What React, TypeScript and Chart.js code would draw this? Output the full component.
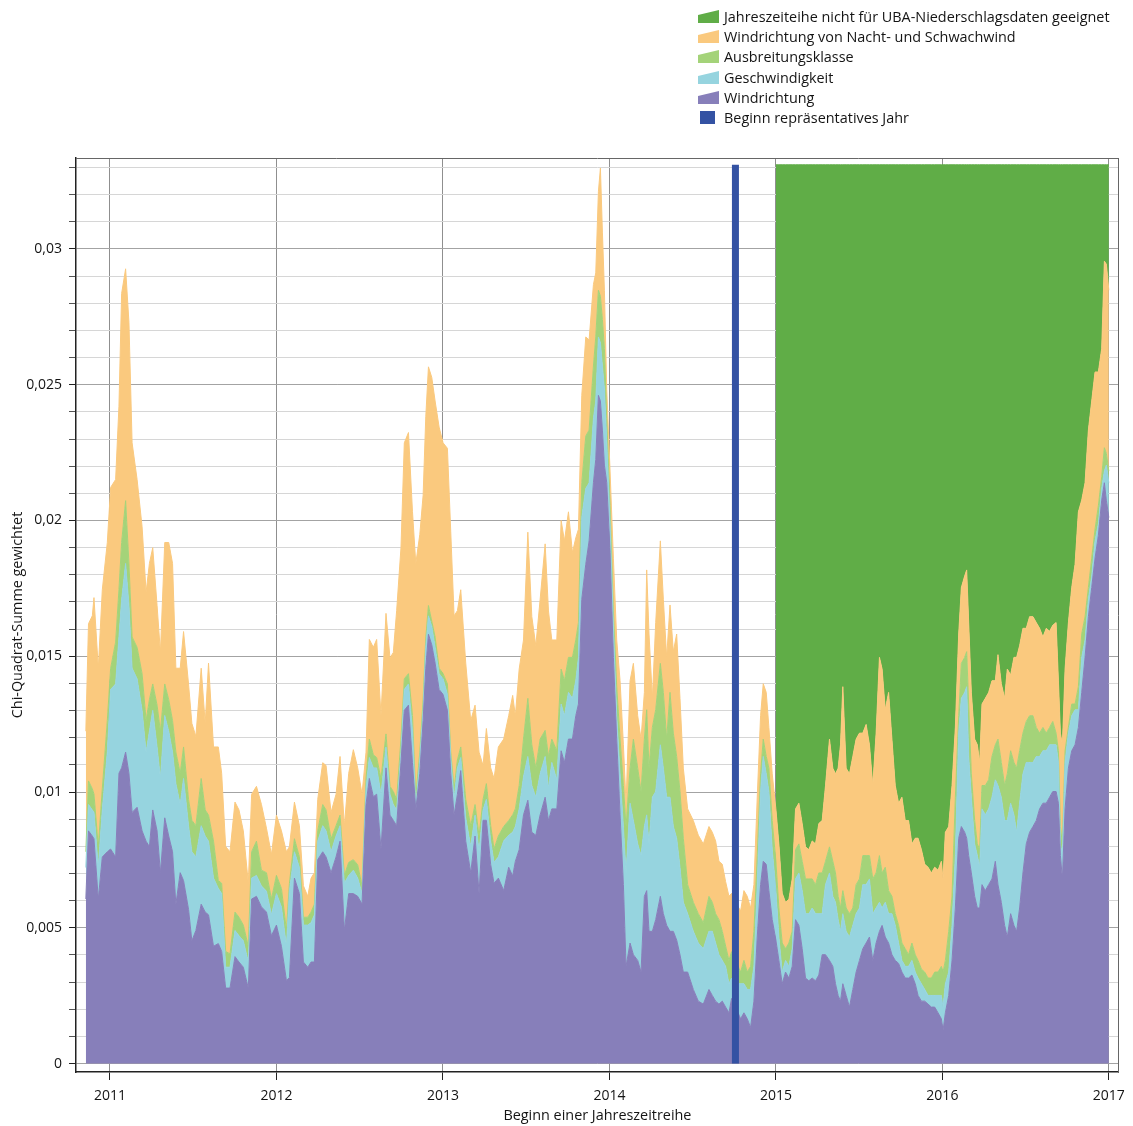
import React, { useEffect, useRef } from "react";
import { Chart, registerables } from "chart.js";

Chart.register(...registerables);

// ---------- data ----------
const years = [
  2010.855, 2010.871, 2010.894, 2010.904, 2010.930, 2010.954, 2010.984, 2011.004, 2011.034, 2011.054,
  2011.070, 2011.094, 2011.114, 2011.133, 2011.163, 2011.193, 2011.217, 2011.237, 2011.257, 2011.283,
  2011.303, 2011.329, 2011.353, 2011.376, 2011.396, 2011.422, 2011.442, 2011.472, 2011.492, 2011.516,
  2011.548, 2011.572, 2011.592, 2011.622, 2011.651, 2011.671, 2011.695, 2011.721, 2011.751, 2011.775,
  2011.801, 2011.831, 2011.851, 2011.880, 2011.910, 2011.940, 2011.970, 2012.000, 2012.030, 2012.060,
  2012.078, 2012.108, 2012.138, 2012.162, 2012.188, 2012.208, 2012.228, 2012.248, 2012.278, 2012.298,
  2012.328, 2012.358, 2012.382, 2012.408, 2012.434, 2012.462, 2012.488, 2012.514, 2012.538, 2012.558,
  2012.582, 2012.602, 2012.628, 2012.658, 2012.682, 2012.702, 2012.722, 2012.748, 2012.768, 2012.793,
  2012.817, 2012.837, 2012.861, 2012.881, 2012.897, 2012.913, 2012.933, 2012.953, 2012.977, 2013.001,
  2013.027, 2013.047, 2013.067, 2013.087, 2013.107, 2013.137, 2013.167, 2013.193, 2013.217, 2013.241,
  2013.261, 2013.287, 2013.307, 2013.333,
  2013.365, 2013.395, 2013.419, 2013.435, 2013.458, 2013.484, 2013.510, 2013.534, 2013.558, 2013.584,
  2013.614, 2013.634, 2013.654, 2013.684, 2013.710, 2013.730, 2013.754, 2013.778, 2013.798, 2013.814,
  2013.834, 2013.858, 2013.878, 2013.904, 2013.918, 2013.934, 2013.946, 2013.958, 2013.970, 2013.984,
  2014.004, 2014.024, 2014.044, 2014.064, 2014.084, 2014.100, 2014.124, 2014.144, 2014.170, 2014.190,
  2014.210, 2014.224, 2014.238, 2014.258, 2014.278, 2014.306, 2014.324, 2014.344, 2014.364, 2014.384,
  2014.404, 2014.424, 2014.444, 2014.470, 2014.504, 2014.534, 2014.564,
  2014.598, 2014.618, 2014.638, 2014.658, 2014.678, 2014.698, 2014.718, 2014.734, 2014.758, 2014.788,
  2014.808, 2014.828, 2014.848, 2014.868, 2014.888, 2014.908, 2014.924, 2014.942, 2014.958, 2014.978,
  2015.000, 2015.018, 2015.038, 2015.058, 2015.078, 2015.098, 2015.118, 2015.138, 2015.158, 2015.178,
  2015.198, 2015.218, 2015.238, 2015.258, 2015.278, 2015.298, 2015.322, 2015.342, 2015.358, 2015.374,
  2015.388, 2015.402, 2015.422, 2015.442, 2015.462, 2015.482, 2015.502, 2015.522, 2015.542, 2015.562,
  2015.582, 2015.602, 2015.622, 2015.638, 2015.657, 2015.677, 2015.697, 2015.717, 2015.737, 2015.757,
  2015.777, 2015.797, 2015.817, 2015.837,
  2015.854, 2015.874, 2015.894, 2015.914, 2015.934, 2015.954, 2015.974, 2015.994, 2016.004, 2016.018,
  2016.038, 2016.058, 2016.078, 2016.098, 2016.114, 2016.134, 2016.146, 2016.158, 2016.174, 2016.194,
  2016.210, 2016.224, 2016.238, 2016.258, 2016.278, 2016.298, 2016.318, 2016.334, 2016.354, 2016.374,
  2016.390, 2016.410, 2016.430, 2016.446, 2016.464, 2016.484, 2016.504, 2016.524, 2016.544, 2016.564,
  2016.584, 2016.604, 2016.624, 2016.644, 2016.663, 2016.683, 2016.697, 2016.709, 2016.721, 2016.737,
  2016.757, 2016.777, 2016.797, 2016.817, 2016.837, 2016.857, 2016.877, 2016.897, 2016.917, 2016.937,
  2016.957, 2016.973, 2016.985, 2017.000,
];

const windrichtung = [
  6.06e-3, 8.57e-3, 8.38e-3, 8.28e-3, 6.06e-3, 7.61e-3, 7.80e-3, 7.90e-3, 7.61e-3, 10.69e-3,
  10.89e-3, 11.47e-3, 10.69e-3, 9.25e-3, 9.44e-3, 8.57e-3, 8.19e-3, 7.99e-3, 9.34e-3, 8.57e-3,
  7.03e-3, 9.05e-3, 8.38e-3, 7.80e-3, 5.87e-3, 7.03e-3, 6.74e-3, 5.68e-3, 4.52e-3, 4.90e-3,
  5.87e-3, 5.58e-3, 5.48e-3, 4.32e-3, 4.42e-3, 4.13e-3, 2.78e-3, 2.78e-3, 3.94e-3, 3.74e-3,
  3.55e-3, 2.78e-3, 6.06e-3, 6.16e-3, 5.77e-3, 5.58e-3, 4.71e-3, 5.10e-3, 4.32e-3, 3.06e-3,
  3.17e-3, 6.83e-3, 6.26e-3, 3.74e-3, 3.55e-3, 3.74e-3, 3.74e-3, 7.51e-3, 7.80e-3, 7.61e-3,
  7.03e-3, 7.61e-3, 8.19e-3, 4.90e-3, 6.26e-3, 6.26e-3, 6.16e-3, 5.87e-3, 9.54e-3, 10.50e-3,
  9.83e-3, 9.92e-3, 7.90e-3, 10.89e-3, 9.15e-3, 8.96e-3, 8.76e-3, 11.08e-3, 13.01e-3, 13.20e-3,
  11.08e-3, 9.34e-3, 10.69e-3, 12.63e-3, 14.56e-3, 15.81e-3, 15.42e-3, 14.75e-3, 13.78e-3, 13.59e-3,
  13.01e-3, 10.69e-3, 9.15e-3, 9.92e-3, 10.79e-3, 8.19e-3, 7.03e-3, 8.38e-3, 6.26e-3, 8.96e-3,
  8.96e-3, 7.32e-3, 6.64e-3, 6.83e-3,
  6.37e-3, 7.23e-3, 6.91e-3, 7.45e-3, 7.88e-3, 9.16e-3, 9.70e-3, 8.52e-3, 8.41e-3, 9.16e-3,
  9.81e-3, 8.95e-3, 9.38e-3, 9.38e-3, 11.52e-3, 11.09e-3, 11.95e-3, 11.95e-3, 12.81e-3, 13.24e-3,
  17.10e-3, 18.39e-3, 19.25e-3, 21.39e-3, 22.25e-3, 24.61e-3, 24.40e-3, 23.33e-3, 22.04e-3, 21.39e-3,
  18.82e-3, 14.96e-3, 11.95e-3, 9.16e-3, 6.59e-3, 3.58e-3, 4.44e-3, 4.01e-3, 3.80e-3, 3.37e-3,
  6.16e-3, 6.37e-3, 4.87e-3, 4.87e-3, 5.30e-3, 6.16e-3, 5.52e-3, 5.09e-3, 4.87e-3, 4.87e-3,
  4.55e-3, 4.01e-3, 3.37e-3, 3.37e-3, 2.73e-3, 2.30e-3, 2.19e-3,
  2.73e-3, 2.51e-3, 2.30e-3, 2.19e-3, 2.30e-3, 2.08e-3, 1.87e-3, 2.40e-3, 2.08e-3, 1.65e-3,
  1.87e-3, 1.65e-3, 1.33e-3, 2.30e-3, 4.66e-3, 6.59e-3, 7.45e-3, 7.34e-3, 6.37e-3, 5.30e-3,
  4.55e-3, 3.80e-3, 2.94e-3, 3.37e-3, 3.15e-3, 3.58e-3, 5.30e-3, 5.09e-3, 4.23e-3, 3.15e-3,
  3.05e-3, 3.15e-3, 3.05e-3, 3.26e-3, 4.01e-3, 4.01e-3, 3.80e-3, 3.58e-3, 2.94e-3, 2.51e-3,
  2.30e-3, 2.94e-3, 2.51e-3, 2.08e-3, 2.73e-3, 3.37e-3, 3.80e-3, 4.23e-3, 4.44e-3, 4.66e-3,
  3.80e-3, 4.44e-3, 4.87e-3, 5.09e-3, 4.66e-3, 4.44e-3, 4.01e-3, 3.80e-3, 3.69e-3, 3.37e-3,
  3.15e-3, 3.15e-3, 3.26e-3, 2.94e-3,
  2.51e-3, 2.30e-3, 2.30e-3, 2.19e-3, 2.08e-3, 2.08e-3, 1.87e-3, 1.65e-3, 1.22e-3, 1.87e-3,
  2.51e-3, 3.80e-3, 5.73e-3, 8.30e-3, 8.73e-3, 8.52e-3, 8.30e-3, 7.66e-3, 7.02e-3, 6.16e-3,
  5.73e-3, 5.73e-3, 6.59e-3, 6.37e-3, 6.59e-3, 6.80e-3, 7.45e-3, 6.59e-3, 5.94e-3, 5.09e-3,
  4.66e-3, 5.52e-3, 5.09e-3, 4.87e-3, 5.73e-3, 7.02e-3, 8.09e-3, 8.52e-3, 8.73e-3, 8.95e-3,
  9.38e-3, 9.59e-3, 9.59e-3, 9.81e-3, 10.02e-3, 10.02e-3, 9.59e-3, 7.66e-3, 6.80e-3, 9.38e-3,
  10.88e-3, 11.52e-3, 11.74e-3, 12.38e-3, 13.67e-3, 14.96e-3, 16.46e-3, 17.53e-3, 18.61e-3, 19.46e-3,
  20.75e-3, 21.39e-3, 20.75e-3, 20.11e-3,
];

const geschwindigkeit = [
  1.16e-3, 0.97e-3, 0.96e-3, 0.97e-3, 1.16e-3, 1.73e-3, 3.67e-3, 5.88e-3, 6.37e-3, 5.02e-3,
  6.18e-3, 6.95e-3, 6.18e-3, 5.31e-3, 4.73e-3, 4.44e-3, 3.28e-3, 4.25e-3, 3.67e-3, 3.09e-3,
  3.47e-3, 3.77e-3, 3.86e-3, 3.67e-3, 4.44e-3, 2.51e-3, 3.76e-3, 3.08e-3, 3.28e-3, 2.71e-3,
  2.89e-3, 2.80e-3, 2.71e-3, 2.51e-3, 2.03e-3, 2.13e-3, 0.77e-3, 0.77e-3, 0.96e-3, 0.97e-3,
  0.97e-3, 0.96e-3, 0.77e-3, 0.77e-3, 0.77e-3, 0.77e-3, 0.77e-3, 1.16e-3, 1.45e-3, 1.26e-3,
  3.18e-3, 0.97e-3, 0.96e-3, 1.36e-3, 1.55e-3, 1.45e-3, 1.74e-3, 0.68e-3, 0.96e-3, 0.96e-3,
  0.77e-3, 0.77e-3, 0.57e-3, 1.74e-3, 0.67e-3, 0.86e-3, 0.67e-3, 0.39e-3, 0.58e-3, 0.77e-3,
  1.06e-3, 0.97e-3, 2.02e-3, 0.77e-3, 0.77e-3, 0.58e-3, 0.58e-3, 0.39e-3, 0.77e-3, 0.78e-3,
  1.16e-3, 0.10e-3, 0.49e-3, 0.38e-3, 0.77e-3, 0.68e-3, 0.68e-3, 0.58e-3, 0.58e-3, 0.58e-3,
  0.58e-3, 0.58e-3, 0.58e-3, 0.97e-3, 0.48e-3, 0.86e-3, 0.96e-3, 0.77e-3, 1.54e-3, 0.38e-3,
  0.77e-3, 0.87e-3, 0.77e-3, 0.78e-3,
  1.83e-3, 1.18e-3, 1.61e-3, 1.28e-3, 1.50e-3, 1.40e-3, 1.61e-3, 1.72e-3, 1.40e-3, 1.51e-3,
  1.50e-3, 1.18e-3, 1.71e-3, 1.07e-3, 1.72e-3, 1.72e-3, 1.72e-3, 1.50e-3, 1.29e-3, 1.72e-3,
  3.01e-3, 2.79e-3, 2.14e-3, 2.37e-3, 2.15e-3, 2.15e-3, 2.15e-3, 2.36e-3, 2.79e-3, 1.51e-3,
  1.07e-3, 1.07e-3, 0.86e-3, 1.51e-3, 2.14e-3, 3.44e-3, 5.15e-3, 4.94e-3, 4.29e-3, 4.29e-3,
  2.57e-3, 2.79e-3, 3.22e-3, 4.94e-3, 4.72e-3, 5.58e-3, 5.36e-3, 4.72e-3, 4.94e-3, 3.86e-3,
  3.75e-3, 3.22e-3, 2.57e-3, 2.15e-3, 2.14e-3, 2.14e-3, 2.04e-3,
  2.14e-3, 2.36e-3, 2.14e-3, 1.82e-3, 1.50e-3, 1.50e-3, 1.07e-3, 0.75e-3, 0.86e-3, 1.29e-3,
  1.07e-3, 1.08e-3, 1.40e-3, 1.28e-3, 1.93e-3, 3.43e-3, 3.86e-3, 3.33e-3, 3.65e-3, 2.58e-3,
  1.82e-3, 0.86e-3, 0.43e-3, 0.43e-3, 0.43e-3, 0.65e-3, 1.50e-3, 1.93e-3, 2.14e-3, 2.37e-3,
  2.47e-3, 2.58e-3, 2.47e-3, 2.26e-3, 1.51e-3, 2.58e-3, 3.22e-3, 2.58e-3, 3.00e-3, 2.79e-3,
  2.57e-3, 2.58e-3, 2.36e-3, 2.58e-3, 2.36e-3, 2.15e-3, 1.93e-3, 2.36e-3, 2.15e-3, 2.14e-3,
  1.72e-3, 1.29e-3, 1.07e-3, 0.64e-3, 1.28e-3, 1.08e-3, 1.51e-3, 1.29e-3, 0.75e-3, 0.43e-3,
  0.43e-3, 0.43e-3, 0.54e-3, 0.43e-3,
  0.64e-3, 0.64e-3, 0.43e-3, 0.32e-3, 0.43e-3, 0.43e-3, 0.64e-3, 0.86e-3, 0.86e-3, 1.07e-3,
  0.86e-3, 1.29e-3, 1.93e-3, 3.87e-3, 4.72e-3, 5.15e-3, 5.58e-3, 3.65e-3, 2.79e-3, 1.93e-3,
  1.93e-3, 1.50e-3, 2.79e-3, 2.79e-3, 2.79e-3, 3.01e-3, 3.00e-3, 3.65e-3, 3.87e-3, 3.86e-3,
  4.29e-3, 4.07e-3, 4.07e-3, 3.65e-3, 3.86e-3, 3.65e-3, 3.00e-3, 2.57e-3, 2.36e-3, 2.36e-3,
  1.93e-3, 1.93e-3, 1.93e-3, 1.93e-3, 1.72e-3, 1.72e-3, 1.50e-3, 0.43e-3, 0.86e-3, 1.71e-3,
  1.29e-3, 1.29e-3, 1.29e-3, 0.65e-3, 1.29e-3, 0.64e-3, 0.64e-3, 0.43e-3, 0.64e-3, 0.43e-3,
  0.43e-3, 0.43e-3, 1.29e-3, 1.28e-3,
];

const ausbreitungsklasse = [
  0.58e-3, 0.87e-3, 0.78e-3, 0.67e-3, 0.77e-3, 0.78e-3, 1.16e-3, 0.78e-3, 1.54e-3, 1.74e-3,
  2.12e-3, 2.31e-3, 1.55e-3, 1.15e-3, 1.16e-3, 1.35e-3, 1.16e-3, 1.16e-3, 0.97e-3, 1.54e-3,
  1.74e-3, 1.16e-3, 1.16e-3, 1.16e-3, 1.16e-3, 1.15e-3, 1.16e-3, 0.97e-3, 1.16e-3, 1.15e-3,
  1.74e-3, 0.96e-3, 0.96e-3, 1.36e-3, 0.29e-3, 0.38e-3, 0.58e-3, 0.49e-3, 0.68e-3, 0.68e-3,
  0.58e-3, 0.58e-3, 0.97e-3, 1.26e-3, 0.58e-3, 0.68e-3, 0.58e-3, 0.67e-3, 0.68e-3, 0.58e-3,
  0.29e-3, 0.48e-3, 0.39e-3, 0.29e-3, 0.29e-3, 0.39e-3, 0.39e-3, 0.38e-3, 0.78e-3, 0.77e-3,
  0.48e-3, 0.38e-3, 0.39e-3, 0.29e-3, 0.48e-3, 0.39e-3, 0.49e-3, 0.29e-3, 0.38e-3, 0.68e-3,
  0.48e-3, 0.38e-3, 0.58e-3, 0.48e-3, 0.29e-3, 0.48e-3, 0.39e-3, 0.48e-3, 0.39e-3, 0.38e-3,
  0.58e-3, 0.39e-3, 0.29e-3, 0.39e-3, 0.34e-3, 0.38e-3, 0.19e-3, 0.38e-3, 0.20e-3, 0.19e-3,
  0.39e-3, 0.20e-3, 0.39e-3, 0.29e-3, 0.39e-3, 0.68e-3, 0.77e-3, 0.39e-3, 0.58e-3, 0.39e-3,
  0.58e-3, 0.57e-3, 0.49e-3, 0.77e-3,
  0.53e-3, 0.54e-3, 0.64e-3, 0.65e-3, 0.86e-3, 1.39e-3, 2.14e-3, 1.50e-3, 1.07e-3, 1.28e-3,
  0.96e-3, 1.18e-3, 0.86e-3, 1.07e-3, 1.29e-3, 1.29e-3, 1.29e-3, 1.51e-3, 1.50e-3, 1.28e-3,
  1.28e-3, 1.93e-3, 1.94e-3, 1.93e-3, 2.36e-3, 1.72e-3, 1.71e-3, 1.71e-3, 1.50e-3, 0.86e-3,
  0.65e-3, 0.64e-3, 1.07e-3, 1.28e-3, 1.51e-3, 1.71e-3, 1.29e-3, 3.00e-3, 2.79e-3, 2.36e-3,
  3.22e-3, 3.87e-3, 2.79e-3, 2.57e-3, 3.01e-3, 3.00e-3, 2.79e-3, 2.14e-3, 3.86e-3, 3.44e-3,
  3.01e-3, 2.79e-3, 2.36e-3, 1.07e-3, 1.07e-3, 1.08e-3, 0.96e-3,
  1.29e-3, 1.07e-3, 1.08e-3, 1.29e-3, 1.07e-3, 0.75e-3, 0.86e-3, 0.97e-3, 0.86e-3, 0.43e-3,
  0.86e-3, 0.64e-3, 0.85e-3, 1.29e-3, 1.07e-3, 0.65e-3, 0.64e-3, 0.64e-3, 0.86e-3, 1.07e-3,
  1.08e-3, 1.07e-3, 1.07e-3, 0.43e-3, 0.86e-3, 0.64e-3, 1.08e-3, 1.07e-3, 1.08e-3, 1.28e-3,
  1.28e-3, 1.07e-3, 1.07e-3, 1.50e-3, 1.50e-3, 0.86e-3, 0.96e-3, 1.29e-3, 1.08e-3, 0.86e-3,
  0.86e-3, 0.85e-3, 0.86e-3, 0.86e-3, 0.64e-3, 1.07e-3, 1.07e-3, 1.07e-3, 1.07e-3, 0.86e-3,
  1.28e-3, 1.29e-3, 1.72e-3, 1.29e-3, 1.29e-3, 0.85e-3, 0.64e-3, 0.43e-3, 0.65e-3, 0.64e-3,
  0.65e-3, 0.43e-3, 0.64e-3, 0.64e-3,
  0.65e-3, 0.54e-3, 0.64e-3, 0.64e-3, 0.64e-3, 0.86e-3, 0.86e-3, 1.07e-3, 1.29e-3, 0.86e-3,
  1.50e-3, 1.07e-3, 2.15e-3, 0.64e-3, 1.29e-3, 1.29e-3, 1.29e-3, 1.93e-3, 0.86e-3, 0.86e-3,
  0.43e-3, 0.65e-3, 0.86e-3, 1.08e-3, 1.07e-3, 1.50e-3, 1.29e-3, 1.71e-3, 1.28e-3, 1.29e-3,
  1.72e-3, 1.93e-3, 1.93e-3, 2.36e-3, 1.93e-3, 1.50e-3, 1.51e-3, 1.72e-3, 1.72e-3, 1.07e-3,
  0.86e-3, 0.86e-3, 0.65e-3, 0.64e-3, 0.86e-3, 0.43e-3, 0.43e-3, 0.64e-3, 0.43e-3, 0.43e-3,
  0.21e-3, 0.43e-3, 0.21e-3, 0.85e-3, 0.86e-3, 0.86e-3, 0.43e-3, 0.65e-3, 0.43e-3, 0.65e-3,
  0.43e-3, 0.86e-3, 0.43e-3, 0.43e-3,
];

const nachtSchwachwind = [
  4.44e-3, 5.79e-3, 6.37e-3, 7.24e-3, 6.57e-3, 7.33e-3, 6.56e-3, 6.66e-3, 5.99e-3, 6.76e-3,
  9.17e-3, 8.54e-3, 8.88e-3, 7.15e-3, 6.18e-3, 5.41e-3, 4.73e-3, 5.02e-3, 5.02e-3, 3.67e-3,
  2.90e-3, 5.21e-3, 5.79e-3, 5.79e-3, 3.09e-3, 3.87e-3, 4.25e-3, 4.25e-3, 3.57e-3, 3.29e-3,
  4.06e-3, 3.19e-3, 5.60e-3, 3.47e-3, 4.92e-3, 4.05e-3, 3.86e-3, 3.76e-3, 4.05e-3, 3.95e-3,
  3.47e-3, 2.32e-3, 2.12e-3, 2.02e-3, 2.42e-3, 1.64e-3, 1.64e-3, 2.22e-3, 2.12e-3, 2.90e-3,
  1.35e-3, 1.35e-3, 1.15e-3, 1.16e-3, 0.77e-3, 1.25e-3, 1.16e-3, 1.16e-3, 1.54e-3, 1.64e-3,
  0.97e-3, 1.16e-3, 2.16e-3, 1.83e-3, 3.28e-3, 4.05e-3, 3.57e-3, 3.37e-3, 0.97e-3, 3.67e-3,
  3.96e-3, 4.35e-3, 2.32e-3, 4.44e-3, 4.73e-3, 5.12e-3, 6.95e-3, 7.05e-3, 8.69e-3, 8.88e-3,
  7.52e-3, 8.59e-3, 8.01e-3, 7.53e-3, 8.15e-3, 8.79e-3, 8.98e-3, 8.69e-3, 8.88e-3, 8.50e-3,
  8.68e-3, 8.11e-3, 6.37e-3, 5.50e-3, 5.79e-3, 5.02e-3, 3.87e-3, 3.66e-3, 3.09e-3, 1.25e-3,
  2.03e-3, 2.13e-3, 2.60e-3, 3.28e-3,
  3.22e-3, 3.86e-3, 4.40e-3, 3.43e-3, 4.29e-3, 3.65e-3, 6.12e-3, 4.72e-3, 4.51e-3, 5.15e-3,
  6.87e-3, 5.36e-3, 3.65e-3, 4.08e-3, 5.47e-3, 5.15e-3, 5.36e-3, 3.86e-3, 3.76e-3, 3.44e-3,
  3.22e-3, 3.65e-3, 3.32e-3, 3.00e-3, 2.36e-3, 3.64e-3, 4.72e-3, 3.22e-3, 2.15e-3, 1.07e-3,
  1.28e-3, 1.94e-3, 1.72e-3, 2.15e-3, 1.50e-3, 0.86e-3, 3.22e-3, 2.79e-3, 1.93e-3, 1.93e-3,
  1.72e-3, 5.15e-3, 4.94e-3, 1.07e-3, 3.21e-3, 4.51e-3, 3.43e-3, 3.01e-3, 3.22e-3, 3.00e-3,
  4.51e-3, 3.43e-3, 2.58e-3, 2.79e-3, 3.01e-3, 2.89e-3, 2.90e-3,
  2.57e-3, 2.58e-3, 2.68e-3, 2.15e-3, 2.47e-3, 2.37e-3, 2.36e-3, 2.15e-3, 2.14e-3, 2.25e-3,
  2.57e-3, 2.79e-3, 2.15e-3, 1.72e-3, 2.15e-3, 2.14e-3, 2.04e-3, 2.36e-3, 1.50e-3, 1.72e-3,
  1.93e-3, 2.36e-3, 1.83e-3, 1.71e-3, 1.61e-3, 1.93e-3, 1.50e-3, 1.50e-3, 1.39e-3, 1.18e-3,
  1.08e-3, 1.40e-3, 1.50e-3, 1.82e-3, 1.93e-3, 2.79e-3, 3.97e-3, 3.43e-3, 3.65e-3, 4.72e-3,
  6.01e-3, 7.51e-3, 5.15e-3, 5.15e-3, 5.58e-3, 5.36e-3, 5.37e-3, 4.51e-3, 4.83e-3, 4.08e-3,
  3.44e-3, 5.15e-3, 7.30e-3, 7.51e-3, 5.80e-3, 7.30e-3, 5.79e-3, 4.72e-3, 4.50e-3, 5.37e-3,
  4.72e-3, 4.94e-3, 3.65e-3, 4.29e-3,
  4.50e-3, 4.40e-3, 3.97e-3, 4.08e-3, 3.87e-3, 3.86e-3, 3.75e-3, 3.87e-3, 3.43e-3, 4.72e-3,
  3.86e-3, 4.08e-3, 2.57e-3, 3.01e-3, 2.79e-3, 3.00e-3, 3.01e-3, 3.00e-3, 3.00e-3, 3.00e-3,
  3.65e-3, 3.21e-3, 3.00e-3, 3.21e-3, 3.22e-3, 2.79e-3, 2.36e-3, 3.11e-3, 2.90e-3, 3.21e-3,
  3.86e-3, 2.79e-3, 3.87e-3, 4.08e-3, 3.87e-3, 3.86e-3, 3.43e-3, 3.65e-3, 3.65e-3, 3.86e-3,
  3.86e-3, 3.33e-3, 3.86e-3, 3.54e-3, 3.54e-3, 4.07e-3, 2.58e-3, 3.44e-3, 3.65e-3, 3.01e-3,
  3.86e-3, 4.29e-3, 5.15e-3, 6.44e-3, 4.93e-3, 4.93e-3, 5.80e-3, 5.79e-3, 5.79e-3, 4.93e-3,
  4.72e-3, 6.87e-3, 6.97e-3, 6.66e-3,
];

const seriesLabels = [
  "Windrichtung",
  "Geschwindigkeit",
  "Ausbreitungsklasse",
  "Windrichtung von Nacht- und Schwachwind",
];
const unsuitableLabel = "Jahreszeiteihe nicht für UBA-Niederschlagsdaten geeignet";
const unsuitableFrom = 2015;
const unsuitableTo = 2017;
const unsuitableTop = 0.0331;
const repYearLabel = "Beginn repräsentatives Jahr";
const repYearStart = 2014.757;
const repYearTop = 0.0331;

const xAxisTitle = "Beginn einer Jahreszeitreihe";
const yAxisTitle = "Chi-Quadrat-Summe gewichtet";

// ---------- styles ----------
const FONT = "'Open Sans', 'Noto Sans', sans-serif";
const TEXT = "#141414";
const C_PURPLE = "#877fba";
const C_CYAN = "#96d4df";
const C_LGREEN = "#a4d379";
const C_ORANGE = "#fac97e";
const C_DGREEN = "#60ad47";
const C_BLUE = "#3452a3";
const seriesColors = [C_PURPLE, C_CYAN, C_LGREEN, C_ORANGE];

const legendItems = [
  { label: unsuitableLabel, color: C_DGREEN, kind: "area" },
  { label: seriesLabels[3], color: C_ORANGE, kind: "area" },
  { label: seriesLabels[2], color: C_LGREEN, kind: "area" },
  { label: seriesLabels[1], color: C_CYAN, kind: "area" },
  { label: seriesLabels[0], color: C_PURPLE, kind: "area" },
  { label: repYearLabel, color: C_BLUE, kind: "square" },
];

const fmtY = (v: number) => {
  const r = Math.round(v * 1000);
  if (r % 5 !== 0) return "";
  return (r / 1000).toString().replace(".", ",");
};
const isMajor = (v: number) => Math.round(v * 1000) % 5 === 0;

export default function App() {
  const ref = useRef<HTMLCanvasElement | null>(null);

  useEffect(() => {
    if (!ref.current) return;
    Chart.defaults.font.family = FONT;
    Chart.defaults.color = TEXT;

    const series = [windrichtung, geschwindigkeit, ausbreitungsklasse, nachtSchwachwind];
    const cum: number[][] = [];
    let run = years.map(() => 0);
    series.forEach((s) => {
      run = run.map((v, i) => v + s[i]);
      cum.push(run);
    });

    const areaSets = series.map((_, k) => ({
      label: seriesLabels[k],
      data: years.map((x, i) => ({ x, y: cum[k][i] })),
      backgroundColor: seriesColors[k],
      borderColor: seriesColors[k],
      borderWidth: 1,
      fill: k === 0 ? "origin" : "-1",
      pointRadius: 0,
      tension: 0,
    }));

    const unsuitable = {
      label: unsuitableLabel,
      data: years
        .filter((x) => x >= unsuitableFrom && x <= unsuitableTo)
        .map((x) => ({ x, y: unsuitableTop })),
      backgroundColor: C_DGREEN,
      borderColor: C_DGREEN,
      borderWidth: 1,
      fill: "-1",
      pointRadius: 0,
      tension: 0,
    };

    const repBar = {
      label: repYearLabel,
      data: [
        { x: repYearStart, y: 0 },
        { x: repYearStart, y: repYearTop },
      ],
      borderColor: C_BLUE,
      backgroundColor: C_BLUE,
      borderWidth: 7,
      borderCapStyle: "butt",
      fill: false,
      pointRadius: 0,
    };

    const chart = new Chart(ref.current, {
      type: "line",
      data: { datasets: [repBar, ...areaSets, unsuitable] as any },
      options: {
        animation: false,
        responsive: false,
        maintainAspectRatio: false,
        events: [],
        layout: { padding: { top: 158, right: 12, bottom: 0, left: 0 } },
        plugins: {
          legend: { display: false },
          tooltip: { enabled: false },
          filler: { propagate: false },
        },
        scales: {
          x: {
            type: "linear",
            position: "bottom",
            min: 2010.796,
            max: 2017.06,
            afterFit: (s: any) => {
              s.height = 54;
            },
            ticks: {
              stepSize: 1,
              includeBounds: false,
              autoSkip: false,
              maxRotation: 0,
              padding: 8,
              color: TEXT,
              font: { family: FONT, size: 14 },
              callback: (v: any) => String(v),
            },
            grid: { color: "#8f8f8f", lineWidth: 1, tickLength: 8, tickColor: "#222" },
            border: { color: "#222", width: 1.5 },
            title: {
              display: true,
              text: xAxisTitle,
              color: TEXT,
              font: { family: FONT, size: 14.4 },
              padding: { top: 0, bottom: 1 },
            },
          },
          y: {
            type: "linear",
            position: "left",
            min: -0.00031,
            max: 0.03335,
            afterFit: (s: any) => {
              s.width = 76;
            },
            ticks: {
              stepSize: 0.001,
              includeBounds: false,
              autoSkip: false,
              maxTicksLimit: 100,
              padding: 7,
              color: TEXT,
              font: { family: FONT, size: 14 },
              callback: (v: any) => fmtY(Number(v)),
            },
            grid: {
              color: (ctx: any) => (isMajor(ctx.tick.value) ? "#a3a3a3" : "#d6d6d6"),
              tickColor: (ctx: any) => (isMajor(ctx.tick.value) ? "#222" : "#555"),
              lineWidth: 1,
              tickLength: 7,
            },
            border: { color: "#222", width: 1.5 },
            title: {
              display: true,
              text: yAxisTitle,
              color: TEXT,
              font: { family: FONT, size: 14.4 },
              padding: { top: 9, bottom: 0 },
            },
          },
          xTop: {
            type: "linear",
            position: "top",
            display: true,
            grid: { display: false, drawTicks: false },
            ticks: { display: false },
            border: { color: "#666", width: 1 },
            afterFit: (s: any) => {
              s.height = 0;
            },
          },
          yRight: {
            type: "linear",
            position: "right",
            display: true,
            grid: { display: false, drawTicks: false },
            ticks: { display: false },
            border: { color: "#666", width: 1 },
            afterFit: (s: any) => {
              s.width = 0;
            },
          },
        },
      } as any,
    });
    return () => chart.destroy();
  }, []);

  return (
    <div style={{ position: "absolute", left: 0, top: 0, width: 1133, height: 1126, background: "#fff" }}>
      <canvas ref={ref} width={1133} height={1126} style={{ display: "block", width: 1133, height: 1126 }} />
      {legendItems.map((it, i) => (
        <div
          key={i}
          style={{
            position: "absolute",
            left: 698,
            top: 6.7 + 20.1 * i,
            height: 20,
            display: "flex",
            alignItems: "center",
            fontFamily: FONT,
            fontSize: 14.4,
            color: TEXT,
            whiteSpace: "nowrap",
          }}
        >
          <svg width={21} height={13} style={{ marginRight: 5, flex: "none" }}>
            {it.kind === "area" ? (
              <polygon points="0,13 0,5 21,0 21,13" fill={it.color} />
            ) : (
              <rect x={2} y={0} width={15} height={13} fill={it.color} />
            )}
          </svg>
          <span>{it.label}</span>
        </div>
      ))}
    </div>
  );
}
